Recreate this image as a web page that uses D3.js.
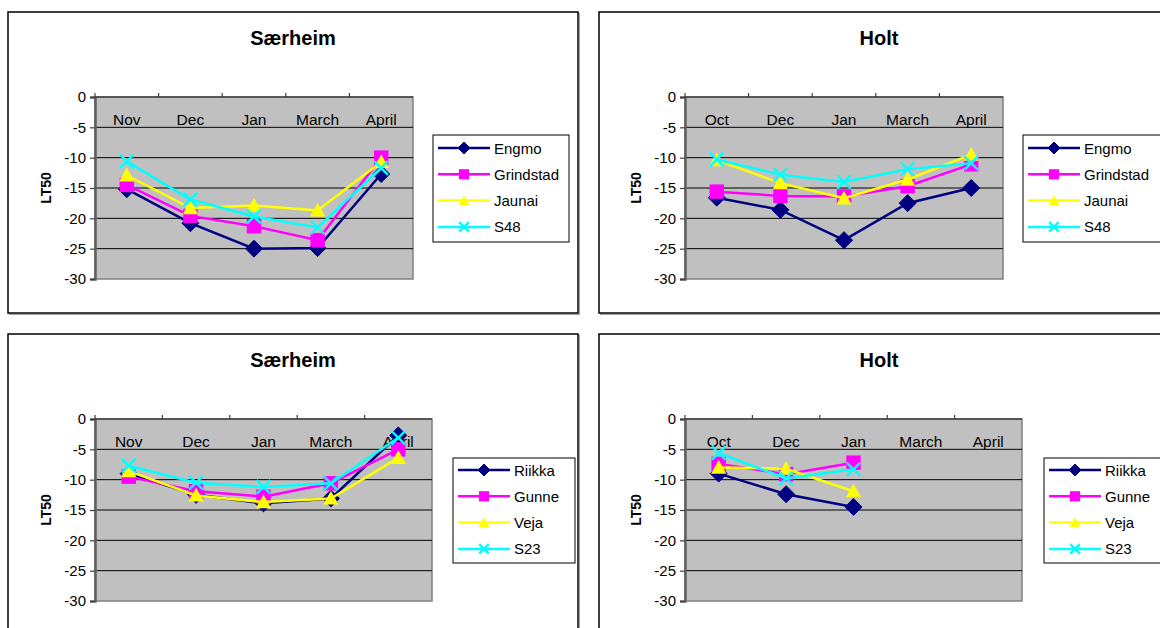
<!DOCTYPE html>
<html>
<head>
<meta charset="utf-8">
<script src="https://cdn.jsdelivr.net/npm/d3@7"></script>
<style>
  body { margin: 0; background: #fff; }
  svg { display: block; font-family: "Liberation Sans", Arial, sans-serif; }
</style>
</head>
<body>
<svg id="chart" width="1160" height="628"></svg>
<script>
// categories
const monthsSaerheim = ["Nov", "Dec", "Jan", "March", "April"];
const monthsHolt = ["Oct", "Dec", "Jan", "March", "April"];
const yTicks = [0, -5, -10, -15, -20, -25, -30];

// series names
const cultivarsTop = ["Engmo", "Grindstad", "Jaunai", "S48"];
const cultivarsBottom = ["Riikka", "Gunne", "Veja", "S23"];

// Særheim, top
const saerEngmo = [-15.2, -20.8, -25.0, -24.9, -12.7];
const saerGrindstad = [-14.5, -19.6, -21.3, -23.6, -10.0];
const saerJaunai = [-12.9, -18.3, -17.9, -18.7, -10.7];
const saerS48 = [-10.6, -16.9, -19.7, -21.5, -11.7];

// Holt, top
const holtEngmo = [-16.6, -18.6, -23.6, -17.5, -15.0];
const holtGrindstad = [-15.6, -16.3, -16.4, -14.7, -11.1];
const holtJaunai = [-10.4, -14.2, -16.7, -13.6, -9.5];
const holtS48 = [-10.3, -12.8, -14.0, -11.9, -10.9];

// Særheim, bottom
const saerRiikka = [-9.0, -12.5, -13.9, -13.1, -2.7];
const saerGunne = [-9.5, -11.9, -12.8, -10.6, -5.0];
const saerVeja = [-8.6, -12.6, -13.7, -13.1, -6.4];
const saerS23 = [-7.7, -10.5, -11.2, -10.6, -3.1];

// Holt, bottom (no values after Jan)
const holtRiikka = [-9.0, -12.4, -14.5, null, null];
const holtGunne = [-7.4, -9.1, -7.2, null, null];
const holtVeja = [-8.0, -8.2, -11.9, null, null];
const holtS23 = [-5.6, -9.8, -8.3, null, null];

const colors = ["#000080", "#ff00ff", "#ffff00", "#00ffff"];
const shapes = ["diamond", "square", "triangle", "cross"];

const svg = d3.select("#chart");

const panels = [
  { title: "Særheim", cats: monthsSaerheim, names: cultivarsTop,
    values: [saerEngmo, saerGrindstad, saerJaunai, saerS48],
    box: [8, 12, 578, 313], plot: [95, 97, 413, 279],
    legend: { x: 433, y: 135, w: 136, h: 107, row0: 148 } },
  { title: "Holt", cats: monthsHolt, names: cultivarsTop,
    values: [holtEngmo, holtGrindstad, holtJaunai, holtS48],
    box: [599, 12, 1175, 313], plot: [685, 97, 1003, 279],
    legend: { x: 1023, y: 135, w: 150, h: 107, row0: 148 } },
  { title: "Særheim", cats: monthsSaerheim, names: cultivarsBottom,
    values: [saerRiikka, saerGunne, saerVeja, saerS23],
    box: [8, 334, 578, 640], plot: [95, 419, 432, 601],
    legend: { x: 453, y: 458, w: 122, h: 105, row0: 470 } },
  { title: "Holt", cats: monthsHolt, names: cultivarsBottom,
    values: [holtRiikka, holtGunne, holtVeja, holtS23],
    box: [599, 334, 1175, 640], plot: [685, 419, 1022, 601],
    legend: { x: 1044, y: 458, w: 130, h: 105, row0: 470 } }
];

function drawMarker(g, shape, color, cx, cy, s) {
  if (shape === "diamond") {
    g.append("path")
      .attr("d", `M${cx},${cy - s}L${cx + s},${cy}L${cx},${cy + s}L${cx - s},${cy}Z`)
      .attr("fill", color).attr("stroke", color).attr("stroke-width", 1);
  } else if (shape === "square") {
    let h = s * 0.85;
    g.append("rect")
      .attr("x", cx - h).attr("y", cy - h)
      .attr("width", 2 * h).attr("height", 2 * h)
      .attr("fill", color);
  } else if (shape === "triangle") {
    let h = s * 0.9;
    g.append("path")
      .attr("d", `M${cx},${cy - h}L${cx + h},${cy + h * 0.8}L${cx - h},${cy + h * 0.8}Z`)
      .attr("fill", color);
  } else {
    let h = s * 0.8;
    g.append("path")
      .attr("d", `M${cx - h},${cy - h}L${cx + h},${cy + h}M${cx - h},${cy + h}L${cx + h},${cy - h}`)
      .attr("stroke", color).attr("stroke-width", 2.4).attr("fill", "none");
  }
}

panels.forEach(function(p) {
  let g = svg.append("g");
  let [bx0, by0, bx1, by1] = p.box;
  let [px0, py0, px1, py1] = p.plot;

  // chart frame
  g.append("rect")
    .attr("x", bx0 + 1.5).attr("y", by0 + 1.5)
    .attr("width", bx1 - bx0).attr("height", by1 - by0)
    .attr("fill", "none").attr("stroke", "#a0a0a0").attr("stroke-width", 1);
  g.append("rect")
    .attr("x", bx0).attr("y", by0)
    .attr("width", bx1 - bx0).attr("height", by1 - by0)
    .attr("fill", "#fff").attr("stroke", "#000").attr("stroke-width", 1.5);

  g.append("text")
    .attr("x", (bx0 + bx1) / 2 + (bx1 > 1160 ? -8 : 0))
    .attr("y", by0 + 33)
    .attr("text-anchor", "middle")
    .attr("font-size", 20).attr("font-weight", "bold")
    .text(p.title);

  let x = d3.scaleBand().domain(p.cats).range([px0, px1]).padding(0);
  let y = d3.scaleLinear().domain([0, -30]).range([py0, py1]);

  // plot background
  g.append("rect")
    .attr("x", px0).attr("y", py0)
    .attr("width", px1 - px0).attr("height", py1 - py0)
    .attr("fill", "#c0c0c0").attr("stroke", "#808080").attr("stroke-width", 1.5);

  // gridlines
  g.selectAll(".grid")
    .data(yTicks.filter(d => d < 0 && d > -30))
    .enter().append("line")
    .attr("x1", px0).attr("x2", px1)
    .attr("y1", d => y(d)).attr("y2", d => y(d))
    .attr("stroke", "#000").attr("stroke-width", 1);

  // y axis
  let yAxis = d3.axisLeft(y).tickValues(yTicks).tickSize(5).tickPadding(4)
    .tickFormat(d => String(d));
  let ya = g.append("g").attr("transform", `translate(${px0},0)`).call(yAxis);
  ya.select(".domain").attr("stroke", "#606060").attr("stroke-width", 2.5);
  ya.selectAll(".tick line").attr("stroke", "#404040").attr("stroke-width", 1.2);
  ya.selectAll(".tick text").attr("font-size", 15).attr("fill", "#000")
    .attr("font-family", "Liberation Sans, Arial, sans-serif");

  // x axis line at 0 with category boundary ticks
  g.append("line")
    .attr("x1", px0).attr("x2", px1)
    .attr("y1", y(0)).attr("y2", y(0))
    .attr("stroke", "#404040").attr("stroke-width", 1.5);
  g.selectAll(".xtick")
    .data(p.cats)
    .enter().append("line")
    .attr("x1", d => x(d)).attr("x2", d => x(d))
    .attr("y1", y(0)).attr("y2", y(0) - 4)
    .attr("stroke", "#404040").attr("stroke-width", 1.2);
  g.selectAll(".xlab")
    .data(p.cats)
    .enter().append("text")
    .attr("x", d => x(d) + x.bandwidth() / 2)
    .attr("y", y(0) + 28)
    .attr("text-anchor", "middle")
    .attr("font-size", 15.5)
    .text(d => d);

  // y title
  g.append("text")
    .attr("transform", `translate(${px0 - 44},${(py0 + py1) / 2}) rotate(-90)`)
    .attr("text-anchor", "middle")
    .attr("font-size", 14).attr("font-weight", "bold")
    .text("LT50");

  // series
  p.values.forEach(function(vals, i) {
    let pts = p.cats.map((c, j) => ({ c: c, v: vals[j] }));
    let line = d3.line()
      .defined(d => d.v !== null)
      .x(d => x(d.c) + x.bandwidth() / 2)
      .y(d => y(d.v));
    let sg = g.append("g");
    sg.append("path")
      .attr("d", line(pts))
      .attr("fill", "none")
      .attr("stroke", colors[i]).attr("stroke-width", 2.5);
    pts.filter(d => d.v !== null).forEach(function(d) {
      drawMarker(sg, shapes[i], colors[i], x(d.c) + x.bandwidth() / 2, y(d.v), 8.5);
    });
  });

  // legend
  let L = p.legend;
  let lg = g.append("g");
  lg.append("rect")
    .attr("x", L.x).attr("y", L.y).attr("width", L.w).attr("height", L.h)
    .attr("fill", "#fff").attr("stroke", "#000").attr("stroke-width", 1);
  p.names.forEach(function(n, i) {
    let ry = L.row0 + i * 26.3;
    lg.append("line")
      .attr("x1", L.x + 5).attr("x2", L.x + 57)
      .attr("y1", ry).attr("y2", ry)
      .attr("stroke", colors[i]).attr("stroke-width", 2.5);
    drawMarker(lg, shapes[i], colors[i], L.x + 31, ry, 6);
    lg.append("text")
      .attr("x", L.x + 61).attr("y", ry + 5.5)
      .attr("font-size", 15)
      .text(n);
  });
});
</script>
</body>
</html>
